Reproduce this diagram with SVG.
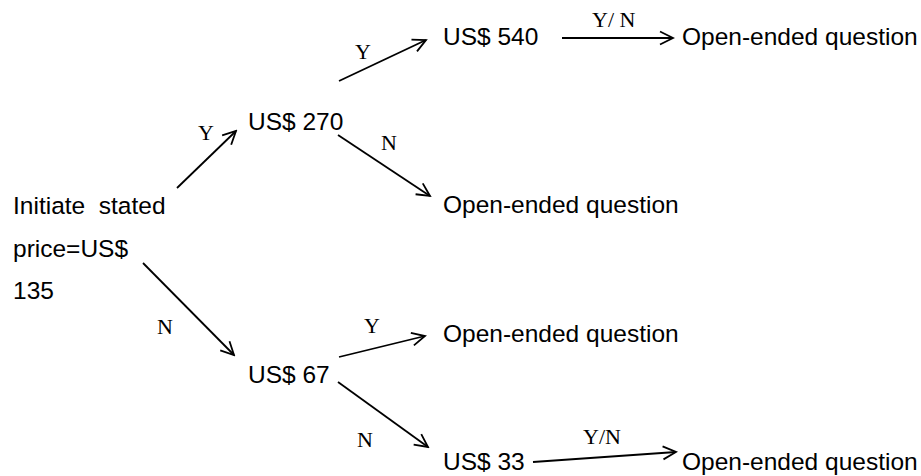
<svg xmlns="http://www.w3.org/2000/svg" width="921" height="476" viewBox="0 0 921 476">
<style>
.t{font-family:"Liberation Sans",Arial,sans-serif;font-size:24.5px;fill:#000;white-space:pre}
.l{font-family:"Liberation Serif","Times New Roman",serif;font-size:22px;fill:#000;white-space:pre}
.c{stroke:#000;stroke-width:1.8;fill:none;marker-end:url(#ah)}
</style>
<defs>
<marker id="ah" markerUnits="userSpaceOnUse" markerWidth="16" markerHeight="16" refX="14" refY="8" orient="auto" viewBox="0 0 16 16">
<path d="M1,1.5 L14,8 L1,14.5" fill="none" stroke="#000" stroke-width="1.8"/>
</marker>
</defs>
<rect width="921" height="476" fill="#fff"/>
<g id="start"><text class="t" x="13" y="214">Initiate  stated</text><text class="t" x="13" y="257">price=US$</text><text class="t" x="13" y="299">135</text></g>
<g id="n270"><text class="t" x="248" y="130">US$ 270</text></g>
<g id="n540"><text class="t" x="443" y="45">US$ 540</text></g>
<g id="q1"><text class="t" x="682" y="45">Open-ended question</text></g>
<g id="q2"><text class="t" x="443" y="213">Open-ended question</text></g>
<g id="n67"><text class="t" x="248" y="383">US$ 67</text></g>
<g id="q3"><text class="t" x="443" y="342">Open-ended question</text></g>
<g id="n33"><text class="t" x="443" y="470">US$ 33</text></g>
<g id="q4"><text class="t" x="682" y="470">Open-ended question</text></g>
<g id="connectors">
<line class="c" x1="177" y1="188" x2="236" y2="131"/>
<line class="c" x1="339" y1="81" x2="426" y2="40"/>
<line class="c" x1="338" y1="135" x2="430" y2="196"/>
<line class="c" x1="562" y1="38" x2="673" y2="38"/>
<line class="c" x1="143" y1="263" x2="234" y2="355"/>
<line class="c" x1="339" y1="357" x2="425" y2="336"/>
<line class="c" x1="338" y1="382" x2="428" y2="447"/>
<line class="c" x1="533" y1="462" x2="676" y2="452"/>
<text class="l" x="198" y="140">Y</text>
<text class="l" x="355" y="59">Y</text>
<text class="l" x="381" y="150">N</text>
<text class="l" x="592" y="27">Y/ N</text>
<text class="l" x="157" y="334">N</text>
<text class="l" x="364" y="333">Y</text>
<text class="l" x="357" y="447">N</text>
<text class="l" x="583" y="444">Y/N</text>
</g>
</svg>
